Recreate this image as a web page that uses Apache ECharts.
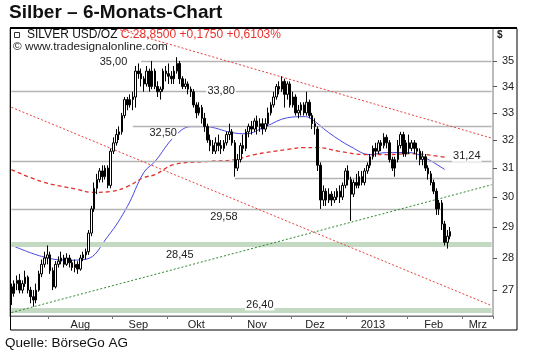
<!DOCTYPE html>
<html><head><meta charset="utf-8">
<script src="https://cdn.jsdelivr.net/npm/echarts@6/dist/echarts.min.js"></script>
<style>html,body{margin:0;padding:0;background:#fff;}#c{width:540px;height:359px;}</style>
</head><body><div id="c"></div>
<script>
// ---------- calendar (trading days) ----------
const startDate = '2012-07-12';
const endDate = '2013-03-15';
const holidays = ['2012-12-25', '2013-01-01'];
function tradingDays(a, b, skip) {
  const out = [];
  const d = new Date(a + 'T00:00:00Z'), e = new Date(b + 'T00:00:00Z');
  while (d <= e) {
    const s = d.toISOString().slice(0, 10), w = d.getUTCDay();
    if (w !== 0 && w !== 6 && skip.indexOf(s) < 0) out.push(s);
    d.setUTCDate(d.getUTCDate() + 1);
  }
  return out;
}
const categories = tradingDays(startDate, endDate, holidays);

// ---------- axis labels ----------
const monthLabels = ['Aug', 'Sep', 'Okt', 'Nov', 'Dez', '2013', 'Feb', 'Mrz'];
const monthLabelDates = ['2012-08-16', '2012-09-14', '2012-10-15', '2012-11-14', '2012-12-13', '2013-01-15', '2013-02-14', '2013-03-08'];
const monthStartDates = ['2012-08-01', '2012-09-03', '2012-10-01', '2012-11-01', '2012-12-03', '2013-01-02', '2013-02-01', '2013-03-01'];
const yTicks = [27, 28, 29, 30, 31, 32, 33, 34, 35];

// ---------- price data [open, close, low, high] ----------
const ohlc = [
[27.10,26.90,26.55,27.20],[26.90,27.20,26.80,27.30],[27.20,27.30,27.00,27.45],[27.30,27.00,26.90,27.50],
[27.00,27.20,26.90,27.30],[27.20,27.40,27.10,27.60],[27.40,27.00,26.90,27.45],[27.00,26.80,26.60,27.10],
[26.80,26.70,26.50,27.00],[26.70,27.00,26.60,27.20],[27.00,27.50,26.95,27.60],[27.50,27.80,27.40,27.95],
[27.80,28.00,27.70,28.20],[28.00,28.10,27.80,28.40],[28.10,27.60,27.50,28.20],[27.60,27.10,27.00,27.70],
[27.10,27.80,27.05,27.90],[27.80,27.90,27.70,28.05],[27.90,28.00,27.80,28.20],[28.00,27.80,27.70,28.10],
[27.80,28.00,27.75,28.15],[28.00,27.85,27.70,28.10],[27.85,27.70,27.60,27.95],[27.70,27.80,27.55,27.95],
[27.80,27.65,27.50,27.90],[27.65,28.00,27.60,28.10],[28.00,28.10,27.90,28.20],[28.10,28.20,27.95,28.30],
[28.20,28.80,28.10,28.90],[28.80,29.60,28.70,29.70],[29.60,30.30,29.50,30.50],[30.30,30.60,30.10,30.80],
[30.60,30.90,30.50,31.00],[30.90,30.70,30.50,31.10],[30.70,31.00,30.60,31.10],[31.00,30.40,30.30,31.10],
[30.40,31.60,30.30,31.70],[31.60,31.90,31.50,32.10],[31.90,32.20,31.80,32.40],[32.20,32.30,32.00,32.50],
[32.30,32.90,32.20,33.00],[32.90,33.50,32.80,33.60],[33.50,33.30,33.10,33.60],[33.30,33.50,33.20,33.70],
[33.50,33.60,33.10,33.80],[33.60,34.60,33.20,34.80],[34.60,34.50,34.30,34.90],[34.50,34.30,34.00,34.70],
[34.30,34.10,33.80,34.40],[34.10,34.60,34.00,34.80],[34.60,34.00,33.80,34.70],[34.00,34.60,33.90,35.00],
[34.60,34.00,33.90,34.70],[34.00,33.80,33.60,34.20],[33.80,33.90,33.50,34.00],[33.90,34.60,33.80,34.70],
[34.60,34.50,34.20,34.80],[34.50,34.40,34.10,34.90],[34.40,34.30,34.10,34.60],[34.30,34.60,34.10,34.80],
[34.60,34.90,34.50,35.15],[34.90,34.30,34.10,35.00],[34.30,34.00,33.90,34.40],[34.00,34.10,33.90,34.30],
[34.10,33.90,33.70,34.20],[33.90,33.80,33.60,34.00],[33.80,33.30,33.20,33.90],[33.30,33.00,32.80,33.40],
[33.00,33.20,32.90,33.40],[33.20,32.80,32.60,33.30],[32.80,32.50,32.30,33.00],[32.50,32.00,31.90,32.60],
[32.00,31.80,31.60,32.20],[31.80,31.60,31.50,32.00],[31.60,31.90,31.50,32.10],[31.90,31.80,31.60,32.20],
[31.80,31.70,31.50,32.00],[31.70,31.90,31.60,32.00],[31.90,32.20,31.80,32.30],[32.20,32.30,32.00,32.60],
[32.30,31.90,31.80,32.40],[31.90,31.00,30.70,32.00],[31.00,31.30,30.90,31.50],[31.30,31.80,31.20,31.90],
[31.80,31.70,31.50,32.20],[31.70,32.30,31.60,32.40],[32.30,32.50,32.10,32.60],[32.50,32.40,32.20,32.70],
[32.40,32.70,32.30,32.80],[32.70,32.50,32.20,32.90],[32.50,32.60,32.30,32.80],[32.60,32.40,32.20,32.80],
[32.40,32.60,32.30,32.80],[32.60,33.00,32.50,33.20],[33.00,33.30,32.90,33.40],[33.30,33.60,33.20,33.80],
[33.60,34.00,33.50,34.10],[34.00,33.90,33.70,34.20],[33.90,34.20,33.80,34.40],[34.20,33.70,33.20,34.30],
[33.70,34.10,33.50,34.20],[34.10,33.30,33.20,34.20],[33.30,33.60,33.20,33.80],[33.60,33.00,32.90,33.70],
[33.00,33.10,32.80,33.30],[33.10,33.30,32.90,33.40],[33.30,33.00,32.90,33.40],[33.00,33.40,32.90,33.80],
[33.40,32.90,32.80,33.50],[32.90,32.60,32.40,33.00],[32.60,32.50,32.20,32.80],[32.40,31.10,30.90,32.50],
[31.10,29.90,29.60,31.20],[29.90,30.20,29.70,30.40],[30.20,29.90,29.70,30.30],[29.90,30.10,29.80,30.30],
[30.10,29.90,29.70,30.20],[29.90,30.00,29.80,30.20],[30.00,30.20,29.90,30.30],[30.20,30.00,29.80,30.40],
[30.00,30.40,29.90,30.50],[30.40,30.90,30.30,31.00],[30.90,30.60,30.40,31.10],[30.60,30.10,29.20,30.70],
[30.10,30.50,30.00,30.60],[30.50,30.40,30.30,30.80],[30.40,30.70,30.30,30.90],[30.70,30.50,30.40,30.90],
[30.50,30.90,30.40,31.00],[30.90,31.10,30.80,31.20],[31.10,31.40,31.00,31.50],[31.40,31.70,31.30,31.80],
[31.70,31.60,31.40,31.90],[31.60,31.90,31.50,32.00],[31.90,31.80,31.60,32.00],[31.80,32.10,31.70,32.25],
[32.10,31.90,31.70,32.20],[31.90,31.30,31.20,32.00],[31.30,31.00,30.90,31.40],[31.00,31.30,30.70,31.40],
[31.30,31.80,31.20,32.00],[31.80,32.20,31.70,32.30],[32.20,31.50,31.40,32.30],[31.50,31.90,31.40,32.00],
[31.90,31.70,31.50,32.20],[31.70,31.90,31.60,32.00],[31.90,31.70,31.50,32.00],[31.70,31.60,31.30,31.90],
[31.60,31.30,31.10,31.70],[31.30,31.40,31.10,31.60],[31.40,31.00,30.90,31.50],[31.00,30.80,30.60,31.10],
[30.80,30.50,30.40,30.90],[30.50,30.20,30.10,30.60],[30.20,29.60,29.40,30.30],[29.60,29.80,29.40,29.90],
[29.80,29.10,28.90,29.90],[29.10,28.50,28.40,29.20],[28.50,28.70,28.30,28.90],[28.70,28.85,28.60,29.00]
];

// ---------- moving averages read at points ----------
const maBlue = [
['2012-07-12',28.41],['2012-07-27',28.05],['2012-08-09',27.93],['2012-08-20',27.96],['2012-08-30',28.70],
['2012-09-10',29.68],['2012-09-18',30.85],['2012-09-24',31.23],['2012-10-03',32.12],['2012-10-11',32.49],
['2012-10-18',32.49],['2012-11-01',32.27],['2012-11-08',32.23],['2012-11-19',32.49],['2012-11-29',32.82],
['2012-12-07',32.86],['2012-12-11',32.82],['2012-12-20',32.27],['2013-01-03',31.76],['2013-01-14',31.48],
['2013-01-22',31.55],['2013-02-01',31.55],['2013-02-08',31.41],['2013-02-20',30.95]
];
const maRed = [
['2012-07-12',30.95],['2012-07-27',30.53],['2012-08-15',30.26],['2012-08-22',30.16],['2012-08-31',30.19],
['2012-09-10',30.36],['2012-09-18',30.67],['2012-09-24',30.77],['2012-10-03',31.13],['2012-10-18',31.23],
['2012-11-02',31.30],['2012-11-13',31.48],['2012-11-29',31.66],['2012-12-07',31.73],['2012-12-14',31.73],
['2012-12-27',31.59],['2013-01-10',31.48],['2013-01-23',31.48],['2013-02-01',31.51],['2013-02-11',31.48],
['2013-02-21',31.37]
];

// ---------- drawn levels and trend lines ----------
const levelValues = [35.00, 33.80, 32.50, 31.24, 30.63, 29.58];
const levelStarts = ['2012-09-17', null, '2012-09-12', null, '2012-11-02', null];
const levelTexts = ['35,00', '33,80', '32,50', '31,24', null, '29,58'];
const levelLabelDates = ['2012-09-03', '2012-10-26', '2012-09-27', '2013-03-04', null, '2012-10-29'];
const bandValues = [28.45, 26.40];
const bandTexts = ['28,45', '26,40'];
const bandLabelDates = ['2012-10-05', '2012-11-15'];
const trendUpperRed = [['2012-09-04', 36.30], ['2013-03-15', 32.07]];
const trendLowerRed = [['2012-07-12', 33.21], ['2013-03-15', 26.53]];
const trendGreen = [['2012-07-12', 26.32], ['2013-03-15', 30.42]];

const header = { instrument: 'SILVER USD/OZ', quote: 'C:28,8500 +0,1750 +0,6103%' };

// ---------- build ----------
const labelIdx = {};
monthLabelDates.forEach((d, i) => { labelIdx[categories.indexOf(d)] = monthLabels[i]; });
const tickIdx = {};
monthStartDates.forEach(d => { tickIdx[categories.indexOf(d)] = true; });
const lastCat = categories[categories.length - 1];
const firstCat = categories[0];

const levelLines = [];
const levelPoints = [];
levelValues.forEach((v, i) => {
  levelLines.push([{ coord: [levelStarts[i] || firstCat, v] }, { coord: [lastCat, v] }]);
  if (levelTexts[i]) levelPoints.push({ coord: [levelLabelDates[i], v], value: levelTexts[i], idx: i });
});
const offsets = [[0, 1], [0, -1], [0, 7], [0, -5], [0, 0], [0, 7]];
const bandOffsets = [[0, 11], [0, -5]];

const font = '"Liberation Sans", Arial, sans-serif';
const chart = echarts.init(document.getElementById('c'), null, { renderer: 'canvas' });
chart.setOption({
  animation: false,
  backgroundColor: '#fff',
  grid: { left: 10, right: 47, top: 28, bottom: 43, show: true, borderColor: '#777', borderWidth: 1, backgroundColor: 'transparent' },
  xAxis: {
    type: 'category', data: categories, boundaryGap: true,
    axisLine: { show: true, lineStyle: { color: '#777', width: 1 } },
    axisTick: { show: true, length: 3, interval: (i) => !!tickIdx[i], lineStyle: { color: '#777' } },
    axisLabel: { interval: (i) => labelIdx[i] !== undefined, formatter: (v, i) => labelIdx[i] || '', fontSize: 11, color: '#222', fontFamily: font, margin: 3 },
    splitLine: { show: false }
  },
  yAxis: {
    type: 'log', logBase: 10, position: 'right', min: 26.22, max: 36.33,
    splitLine: { show: false }, axisLine: { show: false },
    axisTick: { show: true, length: 4, lineStyle: { color: '#555' }, customValues: yTicks },
    axisLabel: { customValues: yTicks, fontSize: 11, color: '#222', fontFamily: font, margin: 9, formatter: (v) => String(Math.round(v)) }
  },
  series: [
    {
      type: 'line', name: 'levels', data: [], silent: true, z: 1,
      markLine: {
        silent: true, symbol: 'none', animation: false,
        label: { show: false },
        data: levelLines.concat(
          bandValues.map(v => [{ coord: [firstCat, v], lineStyle: { color: '#c4d9c2', width: 5, type: 'solid' } }, { coord: [lastCat, v] }])),
        lineStyle: { color: '#b4b4b4', width: 1.3, type: 'solid' }
      }
    },
    {
      type: 'line', name: 'trends', data: [], silent: true, z: 2,
      markLine: {
        silent: true, symbol: 'none', animation: false, label: { show: false },
        data: [
          [{ coord: trendUpperRed[0], lineStyle: { color: '#e8413c', width: 1, type: [2, 2] } }, { coord: trendUpperRed[1] }],
          [{ coord: trendLowerRed[0], lineStyle: { color: '#e8413c', width: 1, type: [2, 2] } }, { coord: trendLowerRed[1] }],
          [{ coord: trendGreen[0], lineStyle: { color: '#2f8a2f', width: 1, type: [2, 2] } }, { coord: trendGreen[1] }]
        ]
      }
    },
    {
      type: 'line', name: 'MA blue', data: maBlue, smooth: 0.4, showSymbol: false, z: 3,
      lineStyle: { color: '#4848e0', width: 1 }
    },
    {
      type: 'line', name: 'MA red', data: maRed, smooth: 0.4, showSymbol: false, z: 3,
      lineStyle: { color: '#e0302c', width: 1.3, type: [4, 3] }
    },
    {
      type: 'candlestick', name: 'Silver', data: ohlc, barWidth: 2, z: 5,
      itemStyle: { color: '#ffffff', color0: '#000000', borderColor: '#000000', borderColor0: '#000000', borderWidth: 1 }
    },
    {
      type: 'line', name: 'labels', data: [], silent: true, z: 6,
      markPoint: {
        silent: true, symbol: 'rect', symbolSize: 0, animation: false,
        data: levelPoints.map(p => ({ coord: p.coord, value: p.value, label: { offset: offsets[p.idx] } })).concat(
          bandValues.map((v, i) => ({ coord: [bandLabelDates[i], v], value: bandTexts[i], label: { offset: bandOffsets[i] } }))),
        label: { show: true, position: 'inside', formatter: (p) => p.value, fontSize: 11, color: '#222', fontFamily: font, backgroundColor: '#fff', padding: [0, 1] }
      }
    }
  ],
  graphic: [
    { type: 'rect', shape: { x: 10.5, y: 28.5, width: 506.5, height: 301.5 }, style: { fill: 'none', stroke: '#000', lineWidth: 1 }, z: 100 },
    { type: 'line', shape: { x1: 10, y1: 28, x2: 517, y2: 28 }, style: { stroke: '#000', lineWidth: 2 }, z: 100 },
    { type: 'text', x: 9, y: 3, style: { text: 'Silber – 6-Monats-Chart', font: 'bold 19px ' + font, fill: '#111' }, z: 100 },
    { type: 'rect', shape: { x: 14.5, y: 32.5, width: 5, height: 5 }, style: { fill: '#fff', stroke: '#333', lineWidth: 1 }, z: 100 },
    { type: 'text', x: 27, y: 29, style: { text: '{b|' + header.instrument + '} {r|' + header.quote + '}', rich: { b: { font: '12px ' + font, fill: '#111' }, r: { font: '12px ' + font, fill: '#e8312c' } } }, z: 100 },
    { type: 'text', x: 13, y: 41, style: { text: '© www.tradesignalonline.com', font: '11.8px ' + font, fill: '#222' }, z: 100 },
    { type: 'text', x: 497, y: 30, style: { text: '$', font: 'bold 10px ' + font, fill: '#222' }, z: 100 },
    { type: 'text', x: 5, y: 336, style: { text: 'Quelle: BörseGo AG', font: '13.5px ' + font, fill: '#111' }, z: 100 }
  ]
});
</script>
</body></html>
